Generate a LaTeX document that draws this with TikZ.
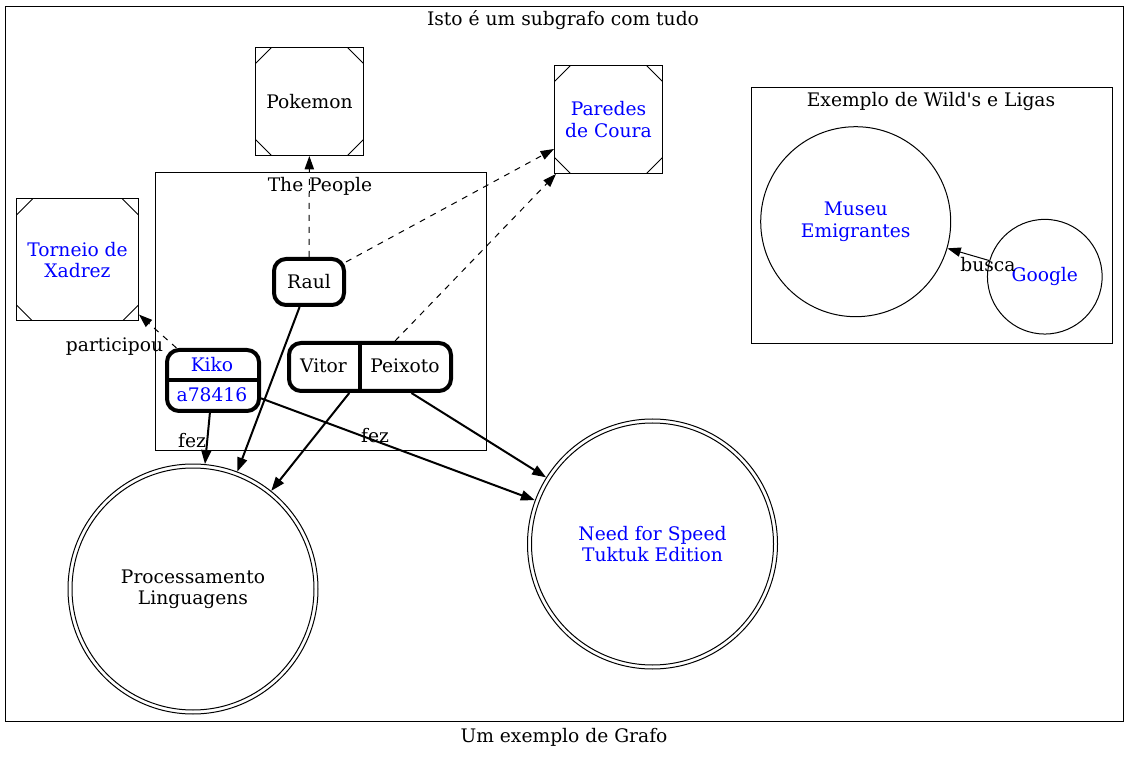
\documentclass[tikz,border=0pt]{standalone}
\usepackage{fontspec}
\setmainfont{DejaVu Serif}[Ligatures=TeXOff]
\usetikzlibrary{arrows.meta}
\begin{document}
\begin{tikzpicture}[x=0.75pt,y=-0.75pt,
  every node/.style={font=\fontsize{14pt}{16pt}\selectfont, inner sep=0pt, align=center},
  thin line/.style={line width=0.75pt},
  msq/.style={draw, thin line, minimum size=#1, path picture={
     \draw[thin line] ([yshift=-12pt]path picture bounding box.north west) -- ([xshift=12pt]path picture bounding box.north west);
     \draw[thin line] ([xshift=-12pt]path picture bounding box.north east) -- ([yshift=-12pt]path picture bounding box.north east);
     \draw[thin line] ([yshift=12pt]path picture bounding box.south west) -- ([xshift=12pt]path picture bounding box.south west);
     \draw[thin line] ([xshift=-12pt]path picture bounding box.south east) -- ([yshift=12pt]path picture bounding box.south east);
  }},
  rec/.style={draw, line width=3pt, rounded corners=9pt},
  dcirc/.style={draw, thin line, circle, minimum size=187.5pt},
  circ/.style={draw, thin line, circle, minimum size=#1},
  dashedge/.style={-{Triangle[length=10pt,width=7pt]}, thin line, dash pattern=on 4.5pt off 4.5pt},
  thickedge/.style={-{Triangle[length=10.5pt,width=7.5pt]}, line width=1.5pt},
  thinedge/.style={-{Triangle[length=10pt,width=7pt]}, thin line},
  blue text/.style={text=blue}
]
\useasboundingbox (0,0) rectangle (1129,759);
% clusters
\draw[thin line] (5.5,6.5) rectangle (1123.5,721.5);
\node (title) at (563,20) {Isto é um subgrafo com tudo};
\node (caption) at (564,737) {Um exemplo de Grafo};
\draw[thin line] (155.5,172.5) rectangle (486.5,450.5);
\node (peopletitle) at (320,186) {The People};
\draw[thin line] (751.5,87.5) rectangle (1112.5,343.5);
\node (wildtitle) at (931,101) {Exemplo de Wild's e Ligas};

% msquare nodes
\node[msq=81pt] (pokemon) at (309.5,101.5) {Pokemon};
\node[msq=81pt, blue text] (paredes) at (608.5,119.5) {Paredes\\de Coura};
\node[msq=91.5pt, blue text] (torneio) at (77.5,260) {Torneio de\\Xadrez};

% people
\node[rec, minimum width=52.5pt, minimum height=34.5pt] (raul) at (309,282) {Raul};
\node[rec, minimum width=69pt, minimum height=45.75pt] (kiko) at (213,380.5) {};
\draw[line width=3pt] (kiko.west) -- (kiko.east);
\node[blue text] (kikoname) at (212,365) {Kiko};
\node[blue text] (kikonum) at (212,395) {a78416};
\node[rec, minimum width=121.5pt, minimum height=36pt] (vp) at (370,367) {};
\draw[line width=3pt] ([xshift=-7.5pt]vp.north) -- ([xshift=-7.5pt]vp.south);
\node (vitor) at (323.5,366) {Vitor};
\node (peixoto) at (405,366) {Peixoto};

% big circles
\node[dcirc] (proc) at (193,589) {Processamento\\Linguagens};
\draw[thin line] (proc.center) circle[radius=90.75pt];
\node[dcirc, blue text] (nfs) at (652.5,544) {Need for Speed\\Tuktuk Edition};
\draw[thin line] (nfs.center) circle[radius=90.75pt];

% wild cluster
\node[circ=142.5pt, blue text] (museu) at (855.7,221.7) {Museu\\Emigrantes};
\node[circ=86pt, blue text] (google) at (1044.8,276.7) {Google};

% edges
\draw[dashedge] (raul) -- (pokemon);
\draw[dashedge] (raul) -- (paredes);
\draw[dashedge] (vp) -- (paredes);
\draw[dashedge] (kiko) -- (torneio);
\draw[thickedge] (kiko) -- (proc);
\draw[thickedge] (kiko) -- (nfs);
\draw[thickedge] (raul) -- (proc);
\draw[thickedge] (vp) -- (proc);
\draw[thickedge] (vp) -- (nfs);
\draw[thinedge] (google) -- (museu);

% edge labels
\node (lpart) at (114.5,347) {participou};
\node (lfez1) at (192,441) {fez};
\node (lfez2) at (375,436) {fez};
\node (lbusca) at (988,265) {busca};
\end{tikzpicture}
\end{document}
